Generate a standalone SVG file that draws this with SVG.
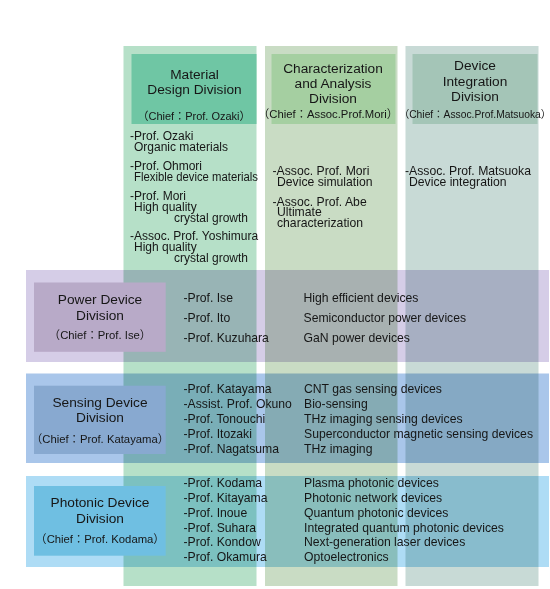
<svg xmlns="http://www.w3.org/2000/svg" width="550" height="589" viewBox="0 0 550 589">
<style>
text{font-family:"Liberation Sans","Noto Sans CJK JP",Arial,sans-serif;fill:#161616}
.hd{font-size:13.7px;text-anchor:middle}
.ch{font-size:11px;text-anchor:middle}
.bch{font-size:11.3px;text-anchor:middle}
.b{font-size:12px}
.bb{font-size:12.2px}
.col{mix-blend-mode:multiply}
</style>
<rect x="0" y="0" width="550" height="589" fill="#ffffff"/>

<g id="bands-bg">
<rect id="band-power-bg" x="26" y="270" width="523" height="92" fill="#d5cde7"/>
<rect id="band-sensing-bg" x="26" y="373.5" width="523" height="89.5" fill="#a9c6ea"/>
<rect id="band-photonic-bg" x="26" y="476" width="523" height="91" fill="#aedcf5"/>
</g>

<g id="col-material">
<rect class="col" x="123.5" y="46" width="133" height="540" fill="#b6e0c8"/>
<rect x="131.5" y="54" width="125" height="70" fill="#6fc6a4"/>
<text class="hd" x="194.5" y="78.5">Material</text>
<text class="hd" x="194.5" y="94">Design Division</text>
<text class="ch" x="194" y="120">（Chief：Prof. Ozaki）</text>
<text class="b" x="130" y="139.5">-Prof. Ozaki</text>
<text class="b" x="134" y="151">Organic materials</text>
<text class="b" x="130" y="170">-Prof. Ohmori</text>
<text class="b" x="134" y="181" textLength="124" lengthAdjust="spacingAndGlyphs">Flexible device materials</text>
<text class="b" x="130" y="199.5">-Prof. Mori</text>
<text class="b" x="134" y="211">High quality</text>
<text class="b" x="174" y="222">crystal growth</text>
<text class="b" x="130" y="240">-Assoc. Prof. Yoshimura</text>
<text class="b" x="134" y="251">High quality</text>
<text class="b" x="174" y="262">crystal growth</text>
</g>

<g id="col-characterization">
<rect class="col" x="265" y="46" width="132.5" height="540" fill="#c9dcc4"/>
<rect x="271.5" y="54" width="124" height="70" fill="#a5cfa1"/>
<text class="hd" x="333" y="73.3">Characterization</text>
<text class="hd" x="333" y="87.5">and Analysis</text>
<text class="hd" x="333" y="103.3">Division</text>
<text class="ch" x="328" y="118.3" style="font-size:11.3px">（Chief：Assoc.Prof.Mori）</text>
<text class="bb" x="272.5" y="175">-Assoc. Prof. Mori</text>
<text class="bb" x="277" y="185.7">Device simulation</text>
<text class="bb" x="272.5" y="205.7">-Assoc. Prof. Abe</text>
<text class="bb" x="277" y="216">Ultimate</text>
<text class="bb" x="277" y="226.7">characterization</text>
</g>

<g id="col-device-integration">
<rect class="col" x="405.5" y="46" width="133" height="540" fill="#c8dad6"/>
<rect x="412.5" y="54" width="125" height="70" fill="#a4c5b7"/>
<text class="hd" x="475" y="70">Device</text>
<text class="hd" x="475" y="85.7">Integration</text>
<text class="hd" x="475" y="101">Division</text>
<text class="ch" x="475" y="117.7" style="font-size:10.3px">（Chief：Assoc.Prof.Matsuoka）</text>
<text class="bb" x="405" y="175">-Assoc. Prof. Matsuoka</text>
<text class="bb" x="409" y="185.7">Device integration</text>
</g>

<g id="band-power">
<rect x="34" y="282.5" width="131.7" height="69.3" fill="#b8aac8"/>
<text class="hd" x="100" y="304.3">Power Device</text>
<text class="hd" x="100" y="320">Division</text>
<text class="bch" x="100" y="339">（Chief：Prof. Ise）</text>
<text class="bb" x="183.5" y="301.5">-Prof. Ise</text>
<text class="bb" x="183.5" y="321.5">-Prof. Ito</text>
<text class="bb" x="183.5" y="341.5">-Prof. Kuzuhara</text>
<text class="bb" x="303.5" y="301.5">High efficient devices</text>
<text class="bb" x="303.5" y="321.5">Semiconductor power devices</text>
<text class="bb" x="303.5" y="341.5">GaN power devices</text>
</g>

<g id="band-sensing">
<rect x="34" y="385.7" width="131.7" height="68.3" fill="#88a9d0"/>
<text class="hd" x="100" y="406.7">Sensing Device</text>
<text class="hd" x="100" y="421.7">Division</text>
<text class="bch" x="100" y="442.7">（Chief：Prof. Katayama）</text>
<text class="bb" x="183.5" y="392.7">-Prof. Katayama</text>
<text class="bb" x="183.5" y="407.7">-Assist. Prof. Okuno</text>
<text class="bb" x="183.5" y="422.7">-Prof. Tonouchi</text>
<text class="bb" x="183.5" y="437.7">-Prof. Itozaki</text>
<text class="bb" x="183.5" y="452.7">-Prof. Nagatsuma</text>
<text class="bb" x="304" y="392.7">CNT gas sensing devices</text>
<text class="bb" x="304" y="407.7">Bio-sensing</text>
<text class="bb" x="304" y="422.7">THz imaging sensing devices</text>
<text class="bb" x="304" y="437.7">Superconductor magnetic sensing devices</text>
<text class="bb" x="304" y="452.7">THz imaging</text>
</g>

<g id="band-photonic">
<rect x="34" y="486" width="131.7" height="69.7" fill="#6fbfe2"/>
<text class="hd" x="100" y="507.3">Photonic Device</text>
<text class="hd" x="100" y="522.7">Division</text>
<text class="bch" x="100" y="543.3">（Chief：Prof. Kodama）</text>
<text class="bb" x="183.5" y="487.3">-Prof. Kodama</text>
<text class="bb" x="183.5" y="502.1">-Prof. Kitayama</text>
<text class="bb" x="183.5" y="516.8">-Prof. Inoue</text>
<text class="bb" x="183.5" y="531.6">-Prof. Suhara</text>
<text class="bb" x="183.5" y="546.3">-Prof. Kondow</text>
<text class="bb" x="183.5" y="561">-Prof. Okamura</text>
<text class="bb" x="304" y="487.3">Plasma photonic devices</text>
<text class="bb" x="304" y="502.1">Photonic network devices</text>
<text class="bb" x="304" y="516.8">Quantum photonic devices</text>
<text class="bb" x="304" y="531.6">Integrated quantum photonic devices</text>
<text class="bb" x="304" y="546.3">Next-generation laser devices</text>
<text class="bb" x="304" y="561">Optoelectronics</text>
</g>

<g id="connectors"/>
</svg>
